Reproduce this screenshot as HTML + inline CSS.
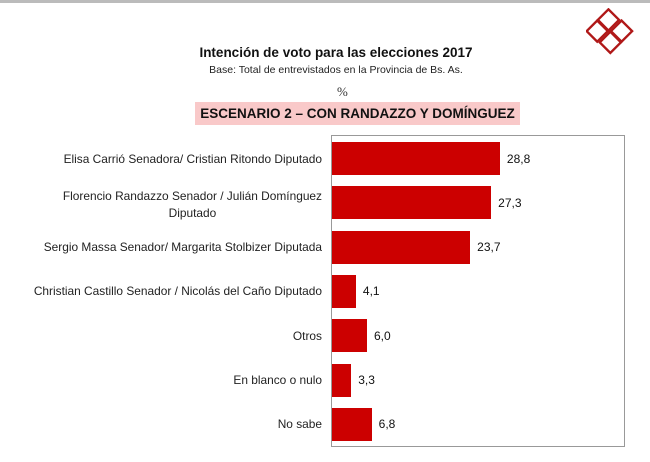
<!DOCTYPE html>
<html><head><meta charset="utf-8"><style>
body{margin:0;width:650px;height:462px;background:#fff;font-family:"Liberation Sans",sans-serif;overflow:hidden;position:relative}
.t{position:absolute;white-space:nowrap}
</style></head><body>
<div style="position:absolute;left:0;top:0;width:650px;height:3px;background:#bbb"></div>
<svg style="position:absolute;left:586px;top:8px" width="58" height="50" viewBox="0 0 62 52">
<g fill="none" stroke="#b01818" stroke-width="2.5">
<rect x="16" y="4" width="16" height="16" transform="rotate(45 24 12)"/>
<rect x="30" y="16" width="16" height="16" transform="rotate(45 38 24)"/>
<rect x="4" y="16" width="16" height="16" transform="rotate(45 12 24)"/>
<rect x="18" y="28" width="16" height="16" transform="rotate(45 26 36)"/>
</g></svg>
<div class="t" style="left:0;width:672px;text-align:center;top:45px;font-size:13.5px;font-weight:bold;color:#111">Intención de voto para las elecciones 2017</div>
<div class="t" style="left:0;width:672px;text-align:center;top:64px;font-size:10.5px;color:#222">Base: Total de entrevistados en la Provincia de Bs. As.</div>
<div class="t" style="left:337px;top:84px;font-size:13px;color:#333;font-family:'Liberation Serif',serif">%</div>
<div class="t" style="left:195px;top:102px;width:325px;height:23px;background:#f9c9c9;text-align:center;line-height:23px;font-size:13.5px;font-weight:bold;color:#111">ESCENARIO 2 – CON RANDAZZO Y DOMÍNGUEZ</div>
<div style="position:absolute;left:331px;top:135px;width:292px;height:310px;border:1px solid #999"></div>
<div id="chart"></div>
<script>
const categories=["Elisa Carrió Senadora/ Cristian Ritondo Diputado","Florencio Randazzo Senador / Julián Domínguez<br>Diputado","Sergio Massa Senador/ Margarita Stolbizer Diputada","Christian Castillo Senador / Nicolás del Caño Diputado","Otros","En blanco o nulo","No sabe"];
const values=[28.8,27.3,23.7,4.1,6.0,3.3,6.8];
const x0=332,pxPer=5.83,y0=142,step=44.3,bh=33;
const xs=v=>v*pxPer;
const c=document.getElementById('chart');
categories.forEach((cat,i)=>{
 const y=y0+i*step;
 const b=document.createElement('div');
 
 
 b.style.cssText=`position:absolute;left:${x0}px;top:${y}px;width:${xs(values[i])}px;height:${bh}px;background:#cc0000`;
 c.appendChild(b);
 const v=document.createElement('div');
 
 
 v.className='t';
 v.style.cssText=`left:${x0+xs(values[i])+7}px;top:${y+bh/2-7}px;font-size:12px;color:#111`;
 v.textContent=values[i].toFixed(1).replace('.',',');
 c.appendChild(v);
 const l=document.createElement('div');
 
 
 l.className='t';
 const two=cat.includes('<br>');
 l.style.cssText=`right:${650-322}px;top:${y+bh/2-(two?15:8)}px;font-size:11.9px;line-height:17px;color:#222;text-align:${two?'center':'right'}`;
 l.innerHTML=cat;
 c.appendChild(l);
});
</script>
</body></html>
